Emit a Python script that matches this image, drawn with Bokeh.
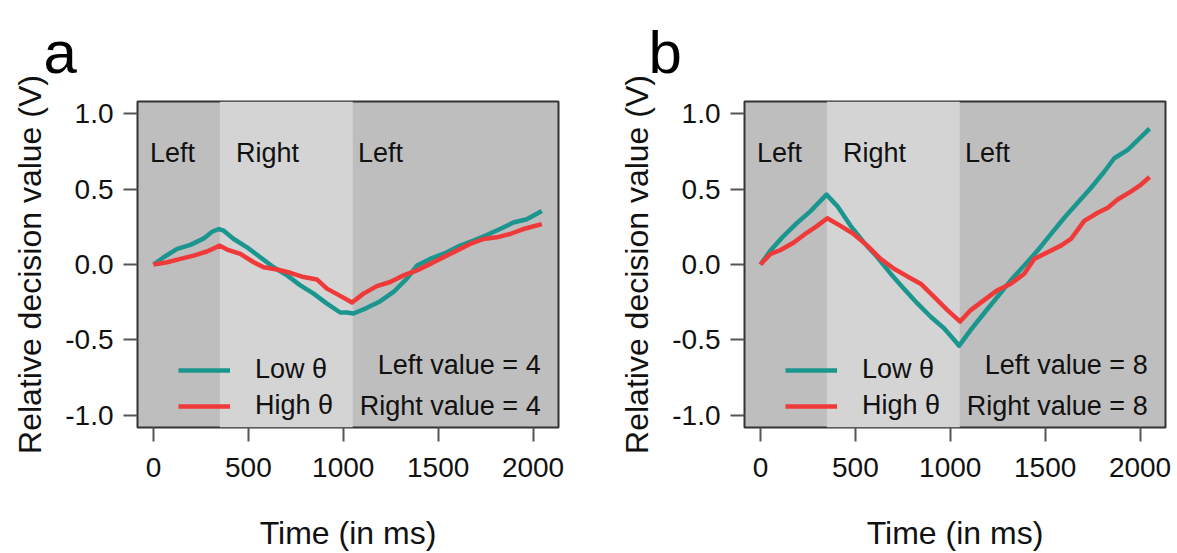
from bokeh.plotting import figure
from bokeh.layouts import row
from bokeh.models import (Range1d, FixedTicker, NumeralTickFormatter, BoxAnnotation,
                          Label, Legend, LegendItem, Title)
from bokeh.embed import file_html
from bokeh.resources import INLINE

# ---------------- data ----------------
x_ticks = [0, 500, 1000, 1500, 2000]
y_ticks = [-1.0, -0.5, 0.0, 0.5, 1.0]

# stimulus periods (ms): Left, Right, Left
period_bounds = [350, 1050]
period_labels = ["Left", "Right", "Left"]
period_label_x = [-18, 435, 1078]

# panel a (left value = 4, right value = 4)
a_low_t = [0, 54, 125, 195, 265, 309, 344, 370, 423, 493, 563, 633, 704, 774, 844, 914, 984,
           1019, 1054, 1125, 1195, 1265, 1335, 1388, 1458, 1546, 1616, 1686, 1756, 1826, 1896,
           1967, 2046]
a_low_v = [0, 0.048, 0.103, 0.13, 0.173, 0.217, 0.235, 0.224, 0.169, 0.114, 0.048, -0.018,
           -0.072, -0.138, -0.193, -0.259, -0.318, -0.318, -0.325, -0.287, -0.243, -0.182,
           -0.094, -0.007, 0.037, 0.081, 0.125, 0.158, 0.195, 0.235, 0.278, 0.30, 0.355]
a_high_t = [0, 72, 142, 212, 282, 349, 388, 458, 528, 581, 651, 721, 791, 861, 914, 984, 1046,
            1107, 1177, 1247, 1318, 1388, 1458, 1528, 1598, 1668, 1739, 1809, 1879, 1949, 2046]
a_high_v = [0, 0.015, 0.037, 0.059, 0.086, 0.125, 0.099, 0.07, 0.015, -0.018, -0.033, -0.055,
            -0.083, -0.099, -0.16, -0.208, -0.252, -0.193, -0.143, -0.116, -0.072, -0.039,
            0.004, 0.048, 0.092, 0.136, 0.169, 0.18, 0.202, 0.235, 0.268]

# panel b (left value = 8, right value = 8)
b_low_t = [0, 53, 123, 194, 264, 348, 405, 475, 545, 616, 686, 756, 827, 897, 967, 1020, 1047,
           1108, 1178, 1249, 1319, 1390, 1460, 1530, 1601, 1671, 1741, 1812, 1864, 1935, 1988,
           2050]
b_low_v = [0, 0.092, 0.19, 0.277, 0.354, 0.463, 0.387, 0.256, 0.146, 0.048, -0.061, -0.16,
           -0.258, -0.346, -0.422, -0.498, -0.538, -0.433, -0.323, -0.214, -0.105, -0.007,
           0.092, 0.201, 0.31, 0.409, 0.507, 0.616, 0.704, 0.759, 0.824, 0.90]
b_high_t = [0, 53, 106, 176, 246, 299, 352, 422, 492, 563, 633, 704, 774, 844, 915, 985, 1052,
            1108, 1178, 1249, 1319, 1390, 1442, 1513, 1583, 1636, 1706, 1777, 1830, 1882, 1953,
            2005, 2050]
b_high_v = [0, 0.07, 0.096, 0.146, 0.212, 0.256, 0.306, 0.256, 0.201, 0.125, 0.037, -0.028,
            -0.079, -0.127, -0.214, -0.302, -0.378, -0.302, -0.236, -0.17, -0.127, -0.061,
            0.037, 0.081, 0.125, 0.169, 0.289, 0.343, 0.376, 0.431, 0.485, 0.529, 0.58]

TEAL = "#1b968f"
RED = "#f03a3a"
DARK_BG = "#bebebe"
LIGHT_BG = "#d4d4d4"
FONT = "Liberation Sans"

FRAME_W = 421
FRAME_H = 330
TOP = 100
BOTTOM = 123
HEIGHT = TOP + FRAME_H + BOTTOM


def make_panel(letter, letter_dx, low_t, low_v, high_t, high_v, left_val,
               right_val, border_left, border_right):
    p = figure(width=border_left + FRAME_W + border_right, height=HEIGHT,
               x_range=Range1d(-84, 2134), y_range=Range1d(-1.08, 1.08),
               output_backend="svg", toolbar_location=None,
               min_border_left=border_left, min_border_right=border_right,
               min_border_top=TOP, min_border_bottom=BOTTOM)
    p.background_fill_color = DARK_BG
    p.border_fill_color = "white"
    p.outline_line_color = "#333333"
    p.outline_line_width = 2
    p.xgrid.visible = False
    p.ygrid.visible = False

    p.add_layout(BoxAnnotation(left=period_bounds[0], right=period_bounds[1],
                               fill_color=LIGHT_BG, fill_alpha=1.0, line_color=None,
                               level="underlay"))

    for txt, x in zip(period_labels, period_label_x):
        p.add_layout(Label(x=x, y=0.74, text=txt, text_align="left", text_baseline="middle",
                           text_font=FONT, text_font_size="27px", text_color="#111111"))

    r_low = p.line(low_t, low_v, line_color=TEAL, line_width=4.5, line_join="round")
    r_high = p.line(high_t, high_v, line_color=RED, line_width=4.5, line_join="round")

    legend = Legend(items=[LegendItem(label="Low θ", renderers=[r_low]),
                           LegendItem(label="High θ", renderers=[r_high])],
                    location=(41, 6), background_fill_alpha=0, border_line_color=None,
                    padding=0, margin=0, spacing=5, glyph_width=52, glyph_height=30,
                    label_height=30, label_standoff=25, label_text_font=FONT,
                    label_text_font_size="27px", label_text_color="#111111")
    p.add_layout(legend)

    p.add_layout(Label(x=2040, y=-0.665, text=f"Left value = {left_val}", text_align="right",
                       text_baseline="middle", text_font=FONT, text_font_size="27px",
                       text_color="#111111"))
    p.add_layout(Label(x=2040, y=-0.94, text=f"Right value = {right_val}", text_align="right",
                       text_baseline="middle", text_font=FONT, text_font_size="27px",
                       text_color="#111111"))

    for ax in (p.xaxis[0], p.yaxis[0]):
        ax.axis_line_color = None
        ax.major_tick_in = 0
        ax.major_tick_out = 14
        ax.major_tick_line_color = "#555555"
        ax.major_tick_line_width = 2
        ax.minor_tick_line_color = None
        ax.major_label_text_font = FONT
        ax.major_label_text_font_size = "28px"
        ax.major_label_text_color = "#111111"
        ax.axis_label_text_font = FONT
        ax.axis_label_text_font_size = "32px"
        ax.axis_label_text_font_style = "normal"
        ax.axis_label_text_color = "#111111"

    p.xaxis.ticker = FixedTicker(ticks=x_ticks)
    p.yaxis.ticker = FixedTicker(ticks=y_ticks)
    p.yaxis.formatter = NumeralTickFormatter(format="0.0")
    p.xaxis.axis_label = "Time (in ms)"
    p.yaxis.axis_label = "Relative decision value (V)"
    p.xaxis.major_label_standoff = 16
    p.yaxis.major_label_standoff = 10
    p.xaxis.axis_label_standoff = 35
    p.yaxis.axis_label_standoff = 14

    # panel letter as a title placed at the top-left of the figure
    p.add_layout(Title(text=letter, text_font=FONT, text_font_size="60px",
                       text_font_style="normal", text_color="#000000", align="left",
                       offset=letter_dx, standoff=32), "above")
    return p


pa = make_panel("a", -94, a_low_t, a_low_v, a_high_t, a_high_v, 4, 4, 137, 30)
pb = make_panel("b", -96, b_low_t, b_low_v, b_high_t, b_high_v, 8, 8, 156, 10)

layout = row(pa, pb)
open("out.html", "w").write(file_html(layout, INLINE))
